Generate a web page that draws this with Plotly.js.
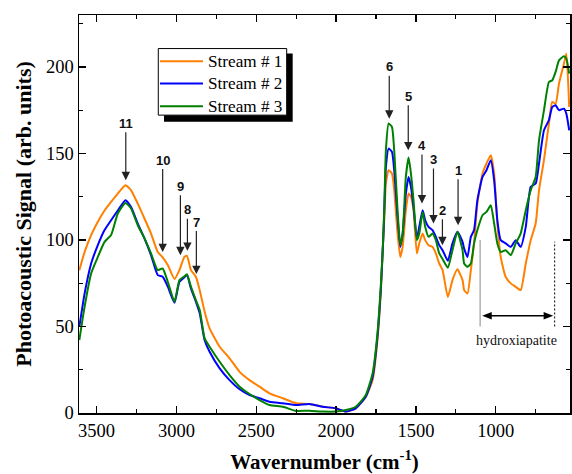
<!DOCTYPE html>
<html><head><meta charset="utf-8">
<script src="https://cdn.plot.ly/plotly-3.0.1.min.js"></script>
<style>html,body{margin:0;padding:0;background:#fff}#chart{width:572px;height:474px}</style>
</head><body><div id="chart"></div>
<script>
// ---- data ----
const wavenumber = [3608,3575,3534,3492,3450,3409,3367,3319,3284,3242,3200,3159,3117,3086,3054,3012,2981,2950,2934,2909,2878,2854,2823,2792,2729,2667,2604,2542,2479,2417,2333,2250,2167,2083,2002,1939,1877,1814,1771,1741,1719,1705,1698,1688,1671,1650,1636,1615,1598,1583,1563,1546,1531,1515,1494,1479,1458,1442,1421,1396,1375,1354,1333,1300,1271,1240,1208,1198,1177,1156,1136,1115,1083,1058,1031,1010,990,969,938,906,875,844,812,781,750,729,698,667,646,625,604,573,558,540];
const stream1 = [82.5,93,102.8,110.5,117,122,126.8,131.6,128.7,121,112.4,103.7,93,90,85.5,77.4,82.6,90.2,90.8,82.6,78.7,71,58.5,48.9,38.3,31.6,23.8,19,15.2,11.4,8.5,5.6,5.2,3.6,2.7,0.8,2.7,9.4,19,42,71,100,112,132.6,140.3,138.4,128.8,103.7,90.2,96,117.2,126.8,124.9,117.2,92.2,98,103.7,99.9,97,96,92.2,86.4,82.6,67,76.8,83,76.8,71,69.1,82.6,98,121,138.4,144.2,149,138.4,109.5,90.2,78.7,74.9,72.9,71,86.4,99.9,109.5,128.8,146.1,167.3,179.8,178.8,190.3,201.9,207.7,176.9];
const stream2 = [49.8,69,86.4,97,105.7,111.4,117,123,119,109.5,100.9,91.2,79.7,78.7,73,63.7,75.8,78.5,79.7,72,64.3,57.6,42,35.4,25.8,19,13.7,10.4,8.5,6.5,5.6,4.6,5.2,3.6,2.7,0.8,2.7,9.4,21,44,73,100,117,142,152.8,150.9,140.3,113.3,96,103.7,126.8,136.4,130.7,119,100.9,107.6,117.2,111.4,107.6,105.7,101.8,97,94,88,98,104.7,98.9,95,90.2,101.8,105.7,123,136.4,140.3,146.1,134.5,111.4,99.9,98,96,99.9,96,107.6,130.7,132.6,144.2,163.4,169.2,176.9,177.8,175,175.9,173,163.4];
const stream3 = [42.1,61.4,80.7,90.2,98.9,102.8,115.3,121.4,118.2,108.5,100.9,92.2,82.6,83.5,75.8,64.3,76.8,79,80.2,73,65.2,59.5,43.1,38.3,29.6,21.9,15.2,11,7.5,4.6,3.6,1.2,1.3,0.8,0.8,1.7,3.6,10.4,23,46,74.9,100,119,151.8,167.3,165.3,151.8,117.2,97,103.7,136.4,147.6,138.4,123,99.9,103.7,116.2,107.6,101.8,103.7,99.9,92.2,89,84,94.1,104.7,94.1,86.4,84.5,86.4,98,105.7,114.3,116.2,120.1,109.5,98,93.1,94.1,91.2,98,103.7,117.2,128.8,136.4,157.6,174.9,191.3,192.3,197.1,203.8,206.1,204.8,196.1];
const seriesNames = ['Stream # 1','Stream # 2','Stream # 3'];
const seriesColors = ['#FF8000','#0000FF','#008000'];

// peak markers (arrows)
const peakLabels = ['11','10','9','8','7','6','5','4','3','2','1'];
const peakWavenumber = [3317,3086,2975,2931,2875,1667,1548,1462,1390,1334,1236];
const peakSignal = [134.5,93,91.2,93.7,80.3,170.1,151.8,121.1,109.5,97,108.5];
const peakLabelOffset = [-57,-92,-69,-41,-52,-52,-54,-58,-64,-35,-55];

const xTickVals = [3500,3000,2500,2000,1500,1000];
const yTickVals = [0,50,100,150,200];

const serif = 'Liberation Serif, Times New Roman, serif';
const traces = [stream1, stream2, stream3].map((s, i) => ({
  x: wavenumber, y: s, type: 'scatter', mode: 'lines', name: seriesNames[i], showlegend: false,
  line: {color: seriesColors[i], width: 2, shape: 'spline', smoothing: 0.5}
}));

const annotations = peakLabels.map((t, i) => ({
  x: peakWavenumber[i], y: peakSignal[i], xref: 'x', yref: 'y',
  text: '<b>' + t + '</b>', showarrow: true, ax: 0, ay: peakLabelOffset[i],
  arrowhead: 2, arrowsize: 1.4, arrowwidth: 1.2, arrowcolor: '#222',
  font: {family: 'Liberation Sans, Arial, sans-serif', size: 13, color: '#111'}
}));
annotations.push({x: 867, y: 42.1, xref: 'x', yref: 'y', text: 'hydroxiapatite', showarrow: false,
  font: {family: serif, size: 14, color: '#111'}});

// hand-built legend (box with drop shadow), placed in paper coordinates
const legendRowsY = [0.8838, 0.8279, 0.7710];
seriesNames.forEach((n, i) => annotations.push({
  x: 0.2587, y: legendRowsY[i], xref: 'paper', yref: 'paper', xanchor: 'left', yanchor: 'middle',
  text: n, showarrow: false, font: {family: serif, size: 17.2, color: '#000'}
}));

const shapes = [
  {type: 'line', xref: 'x', yref: 'y', x0: 1098, x1: 1098, y0: 50, y1: 100, line: {color: '#888', width: 1}},
  {type: 'line', xref: 'x', yref: 'y', x0: 631, x1: 631, y0: 50, y1: 99, line: {color: '#000', width: 1, dash: '2px,2px'}},
  // double arrow for the hydroxiapatite range
  {type: 'line', xref: 'x', yref: 'y', x0: 1040, x1: 685, y0: 56.2, y1: 56.2, line: {color: '#000', width: 1.3}},
  {type: 'path', xref: 'x', yref: 'y', path: 'M1085,56.2 L1025,58.3 L1025,54.1 Z', fillcolor: '#000', line: {width: 0}},
  {type: 'path', xref: 'x', yref: 'y', path: 'M640,56.2 L700,58.3 L700,54.1 Z', fillcolor: '#000', line: {width: 0}},
  // legend shadow and box
  {type: 'rect', xref: 'paper', yref: 'paper', x0: 0.1731, x1: 0.4352, y0: 0.7316, y1: 0.9032,
   fillcolor: '#000', line: {width: 0}, layer: 'above'},
  {type: 'rect', xref: 'paper', yref: 'paper', x0: 0.1615, x1: 0.4230, y0: 0.7484, y1: 0.9157,
   fillcolor: '#fff', line: {color: '#000', width: 1}, layer: 'above'}
];
legendRowsY.forEach((yy, i) => shapes.push({
  type: 'line', xref: 'paper', yref: 'paper', x0: 0.1649, x1: 0.2525, y0: yy, y1: yy,
  line: {color: seriesColors[i], width: 2}, layer: 'above'
}));

const axisCommon = {
  showline: true, linecolor: '#000', linewidth: 1.5, mirror: 'allticks',
  ticks: 'inside', ticklen: 7, tickwidth: 1.3, tickcolor: '#000',
  showgrid: false, zeroline: false,
  tickfont: {family: serif, size: 18.5, color: '#000'}
};

const layout = {
  width: 572, height: 474,
  margin: {l: 79, r: 2, t: 15, b: 61},
  paper_bgcolor: '#fff', plot_bgcolor: '#fff',
  showlegend: false,
  xaxis: Object.assign({}, axisCommon, {
    range: [3610, 535], tickvals: xTickVals, ticktext: xTickVals.map(String),
    minor: {dtick: 250, tick0: 0, ticks: 'inside', ticklen: 4, tickwidth: 1.2, tickcolor: '#000', showgrid: false},
    title: {text: '<b>Wavernumber (cm<sup>-1</sup>)</b>', font: {family: serif, size: 21, color: '#000'}, standoff: 14}
  }),
  yaxis: Object.assign({}, axisCommon, {
    range: [0, 230], tickvals: yTickVals, ticktext: yTickVals.map(String),
    minor: {dtick: 25, tick0: 0, ticks: 'inside', ticklen: 4, tickwidth: 1.2, tickcolor: '#000', showgrid: false},
    title: {text: '<b>Photoacoustic Signal (arb. units)</b>', font: {family: serif, size: 22, color: '#000'}, standoff: 8}
  }),
  annotations: annotations,
  shapes: shapes
};

Plotly.newPlot('chart', traces, layout, {displayModeBar: false, staticPlot: true});
</script></body></html>
